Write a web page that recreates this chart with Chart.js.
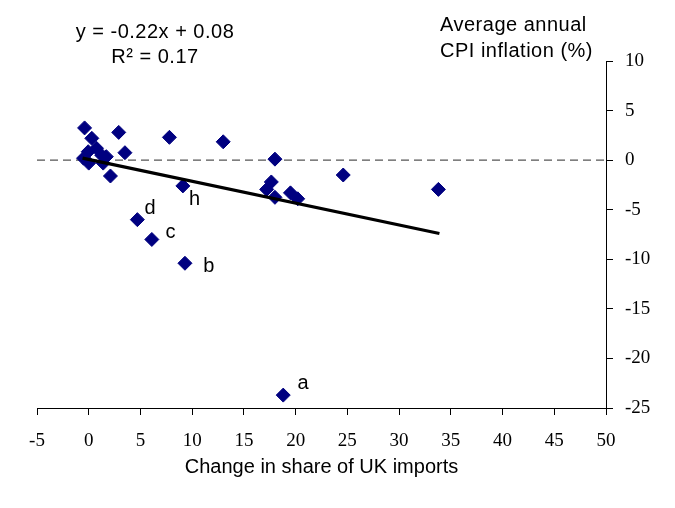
<!DOCTYPE html>
<html>
<head>
<meta charset="utf-8">
<script src="https://cdn.jsdelivr.net/npm/chart.js@4"></script>
<style>
  html, body { margin: 0; padding: 0; background: #fff; }
  #wrap { width: 675px; height: 508px; }
</style>
</head>
<body>
<div id="wrap"><canvas id="importsChart" width="675" height="508"></canvas></div>
<script>
// values
const shareChange = [-0.4, 0.3, 2.9, 7.8, 13.0, -0.05, 0.75, -0.5, 0.0, 1.25, 1.7, 1.4, 3.5, 2.1,
  9.1, 4.7, 6.1, 9.3, 18.8, 18.0, 17.65, 17.2, 18.0, 19.5, 20.2, 24.6, 33.8];
const cpiInflation = [3.25, 2.2, 2.8, 2.3, 1.85, 0.85, 1.2, 0.2, -0.3, 0.5, 0.35, -0.3, 0.75, -1.6,
  -2.6, -6.0, -8.0, -10.4, -23.7, 0.1, -2.2, -2.95, -3.75, -3.3, -3.9, -1.5, -2.95];
const pointTags = ['', '', '', '', '', '', '', '', '', '', '', '', '', '',
  'h', 'd', 'c', 'b', 'a', '', '', '', '', '', '', '', ''];

const trendX = [-0.6, 33.9];
const trendY = [0.2, -7.4];

const xTicks = [-5, 0, 5, 10, 15, 20, 25, 30, 35, 40, 45, 50];
const yTicks = [-25, -20, -15, -10, -5, 0, 5, 10];

const equationText = 'y = -0.22x + 0.08';
const rSquaredText = 'R\u00B2 = 0.17';

const SANS = '"Liberation Sans", Arial, sans-serif';
const SERIF = '"Liberation Serif", "Times New Roman", serif';

// where each letter sits relative to its point, in pixels
const tagOffsets = { a: [20, -12], b: [24, 3], c: [19, -7], d: [13, -11], h: [12, 14] };

const textPlugin = {
  id: 'textPlugin',
  afterDatasetsDraw(chart) {
    const ctx = chart.ctx;
    const xs = chart.scales.x, ys = chart.scales.y;
    ctx.save();
    ctx.fillStyle = '#000';
    ctx.font = '20px ' + SANS;
    ctx.letterSpacing = '0.5px';
    ctx.textBaseline = 'middle';

    // letters next to the marked countries
    ctx.textAlign = 'center';
    pointTags.forEach((tag, i) => {
      if (!tag) return;
      const off = tagOffsets[tag];
      ctx.fillText(tag, xs.getPixelForValue(shareChange[i]) + off[0], ys.getPixelForValue(cpiInflation[i]) + off[1]);
    });

    // regression text
    ctx.fillText(equationText, 155, 32);
    ctx.fillText(rSquaredText, 155, 57);

    // y axis title
    ctx.textAlign = 'left';
    ctx.fillText('Average annual', 440, 25);
    ctx.fillText('CPI inflation (%)', 440, 51);
    ctx.restore();
  }
};

const tickFont = { family: SERIF, size: 19 };

new Chart(document.getElementById('importsChart').getContext('2d'), {
  type: 'scatter',
  data: {
    datasets: [
      {
        type: 'line',
        label: 'Trend',
        data: trendX.map((x, i) => ({ x: x, y: trendY[i] })),
        borderColor: '#000',
        borderWidth: 3.3,
        pointRadius: 0,
        order: 0
      },
      {
        label: 'Countries',
        data: shareChange.map((x, i) => ({ x: x, y: cpiInflation[i] })),
        pointStyle: 'rectRot',
        pointRadius: 7,
        pointHoverRadius: 7,
        backgroundColor: '#000080',
        borderColor: '#000080',
        borderWidth: 1,
        order: 1
      },
      {
        type: 'line',
        label: 'Zero',
        data: [{ x: xTicks[0], y: 0 }, { x: xTicks[xTicks.length - 1], y: 0 }],
        borderColor: '#555',
        borderWidth: 1.4,
        borderDash: [8, 5],
        pointRadius: 0,
        order: 2
      }
    ]
  },
  options: {
    responsive: false,
    animation: false,
    events: [],
    layout: { padding: { left: 37, top: 61, right: 0, bottom: 0 } },
    plugins: {
      legend: { display: false },
      tooltip: { enabled: false }
    },
    scales: {
      x: {
        type: 'linear',
        min: xTicks[0],
        max: xTicks[xTicks.length - 1],
        afterBuildTicks: (scale) => { scale.ticks = xTicks.map(v => ({ value: v })); },
        afterFit: (scale) => { scale.height = 100; },
        grid: { drawOnChartArea: false, drawTicks: true, tickLength: 7, color: '#000' },
        border: { display: true, color: '#000', width: 1 },
        ticks: { color: '#000', font: tickFont, padding: 15, maxRotation: 0 },
        title: {
          display: true,
          text: 'Change in share of UK imports',
          color: '#000',
          font: { family: SANS, size: 20 },
          padding: { top: 0, bottom: 29 }
        }
      },
      y: {
        type: 'linear',
        position: 'right',
        min: yTicks[0],
        max: yTicks[yTicks.length - 1],
        afterBuildTicks: (scale) => { scale.ticks = yTicks.map(v => ({ value: v })); },
        afterFit: (scale) => { scale.width = 69; },
        grid: { drawOnChartArea: false, drawTicks: true, tickLength: 7, color: '#000' },
        border: { display: true, color: '#000', width: 1 },
        ticks: { color: '#000', font: tickFont, padding: 12 }
      }
    }
  },
  plugins: [textPlugin]
});
</script>
</body>
</html>
